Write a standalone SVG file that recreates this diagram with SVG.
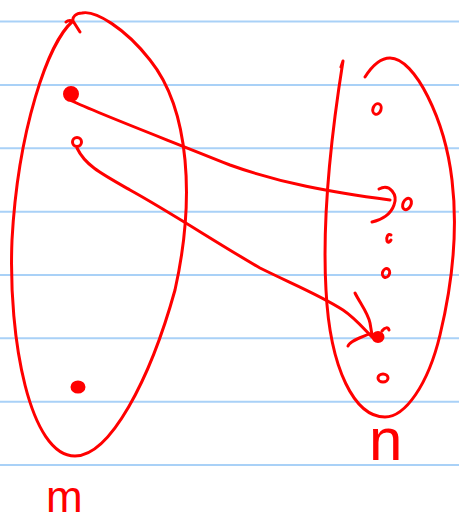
<svg xmlns="http://www.w3.org/2000/svg" width="459" height="522" viewBox="0 0 459 522">
<style>
.rule{stroke:#a9d1f7;stroke-width:2}
.ink{fill:none;stroke:#ff0000;stroke-width:3;stroke-linecap:round;stroke-linejoin:round}
.thin{fill:none;stroke:#ff0000;stroke-width:3;stroke-linecap:round}
.blob{fill:#ff0000;stroke:#ff0000;stroke-width:2}
.lbl{fill:#ff0000;font-family:"Liberation Sans",Arial,sans-serif}
</style>
<rect width="459" height="522" fill="#ffffff"/>
<g id="paper">
<line class="rule" x1="0" y1="21.5" x2="459" y2="21.5"/>
<line class="rule" x1="0" y1="85" x2="459" y2="85"/>
<line class="rule" x1="0" y1="148.3" x2="459" y2="148.3"/>
<line class="rule" x1="0" y1="211.7" x2="459" y2="211.7"/>
<line class="rule" x1="0" y1="275" x2="459" y2="275"/>
<line class="rule" x1="0" y1="338.3" x2="459" y2="338.3"/>
<line class="rule" x1="0" y1="401.7" x2="459" y2="401.7"/>
<line class="rule" x1="0" y1="465" x2="459" y2="465"/>
</g>
<g id="set-m">
<path class="ink" d="M80,32 L73,21 C48,42 18,130 12,240 C8,340 30,456 75,456 C110,456 150,380 175,290 C195,200 190,110 150,60 C125,28 95,10 82,13 C76,13 72,17 73,21 M73,21 C70,20 68,20 66,22"/>
<text class="lbl" x="46" y="512" font-size="44">m</text>
</g>
<g id="m1"><circle class="blob" cx="71" cy="94" r="7"/></g>
<g id="m2"><circle class="thin" cx="77" cy="142" r="4.5"/></g>
<g id="m3"><ellipse class="blob" cx="78" cy="387" rx="6.5" ry="5.5"/></g>
<g id="set-n">
<path class="ink" d="M341,67 L343,61 C332,130 322,220 326,290 C330,370 355,417 385,417 C405,417 428,385 440,335 C452,285 458,230 452,180 C445,120 415,58 390,58 C380,58 372,66 365,77"/>
<text class="lbl" x="369" y="460" font-size="60">n</text>
</g>
<g id="n1"><ellipse class="thin" cx="377" cy="109" rx="4" ry="5.5" transform="rotate(20 377 109)"/></g>
<g id="n2"><ellipse class="thin" cx="407" cy="204" rx="4" ry="6" transform="rotate(25 407 204)"/></g>
<g id="n3"><path class="thin" d="M391,235 C388,233 386,237 387,241 C388,243 390,242 391,240"/></g>
<g id="n4"><ellipse class="thin" cx="386" cy="273" rx="3.5" ry="4.5" transform="rotate(20 386 273)"/></g>
<g id="n5"><ellipse class="blob" cx="378" cy="337" rx="5.5" ry="5"/><path class="thin" d="M382,331 C385,327 388,327 389,330"/></g>
<g id="n6"><ellipse class="thin" cx="383" cy="378" rx="5" ry="4"/></g>
<g id="connectors">
<path class="ink" d="M72,101 C95,112 150,133 230,165 C280,183 330,192 390,200"/>
<path class="ink" d="M379,189 C390,183 398,195 394,205 C391,214 382,220 372,222"/>
<path class="ink" d="M77,148 C85,165 100,173 130,190 C170,212 220,245 260,268 C290,283 320,295 343,310 C355,318 365,330 372,337"/>
<path class="ink" d="M355,293 C360,303 368,313 370,323 L372,335 M348,346 C350,341 360,338 369,334"/>
</g>
</svg>
